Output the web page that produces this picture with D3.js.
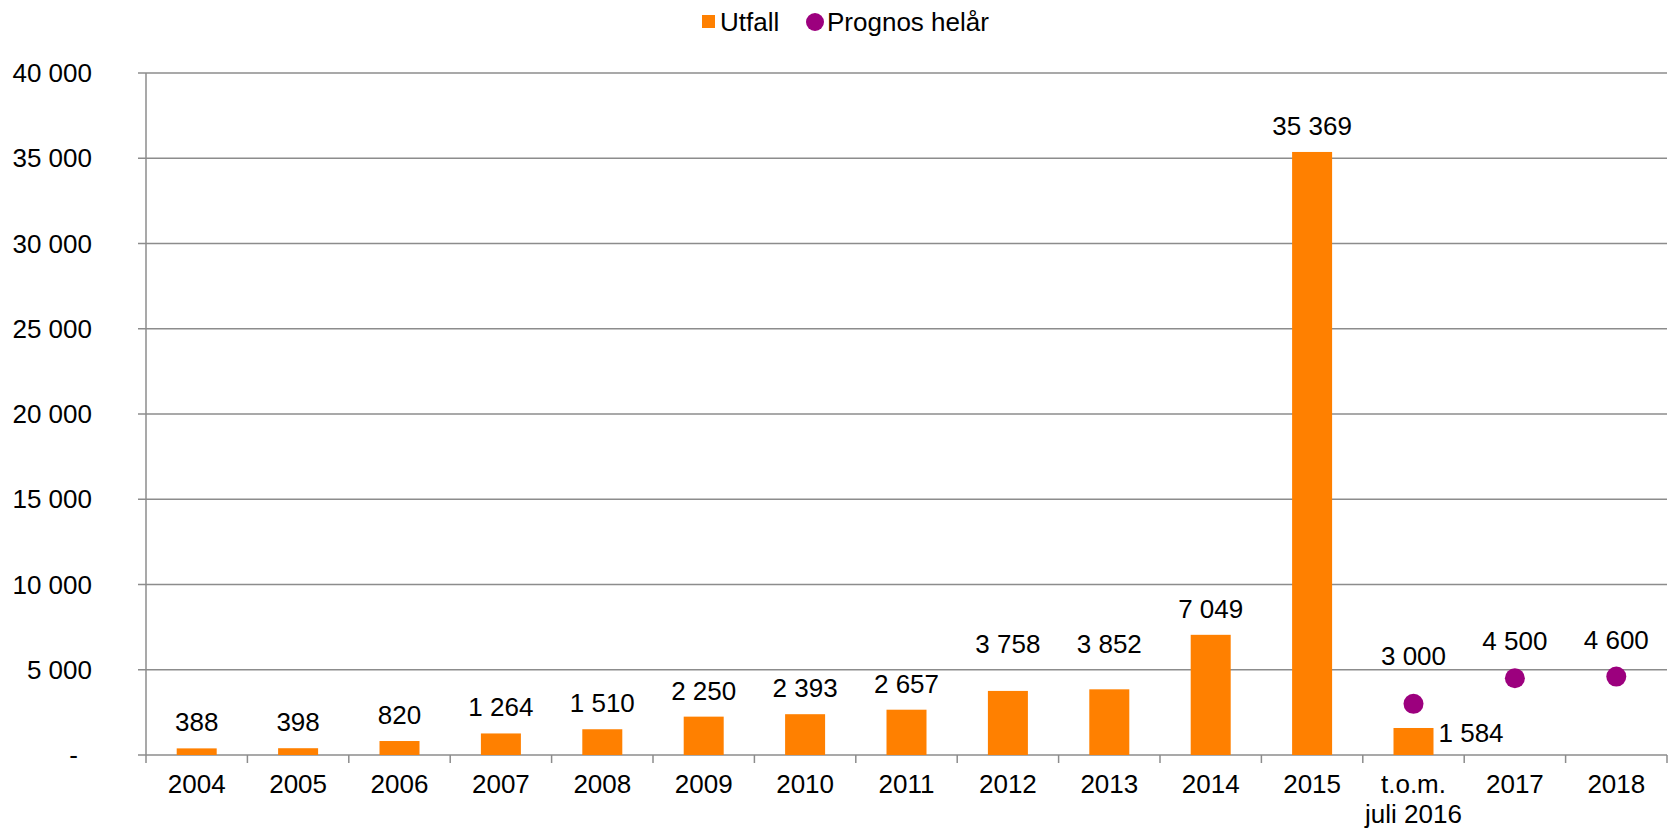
<!DOCTYPE html>
<html lang="sv">
<head>
<meta charset="utf-8">
<title>Utfall och prognos</title>
<script src="https://d3js.org/d3.v7.min.js"></script>
<style>
  body { margin: 0; background: #fff; }
  svg text { font-family: "Liberation Sans", Arial, sans-serif; font-size: 26px; fill: #000; }
</style>
</head>
<body>
<svg id="chart" width="1672" height="829"></svg>
<script>
// ---- data ----
var categories = ["2004","2005","2006","2007","2008","2009","2010","2011","2012","2013","2014","2015","t.o.m.\njuli 2016","2017","2018"];
var utfall  = [388, 398, 820, 1264, 1510, 2250, 2393, 2657, 3758, 3852, 7049, 35369, 1584, null, null];
var prognos = [null, null, null, null, null, null, null, null, null, null, null, null, 3000, 4500, 4600];
var yTicks = [0, 5000, 10000, 15000, 20000, 25000, 30000, 35000, 40000];

var orange = "#ff8000", purple = "#9c007e", grid = "#8c8c8c";

var svg = d3.select("#chart");
var plotLeft = 146, plotRight = 1667, plotTop = 73, plotBottom = 755;

var x = d3.scaleBand().domain(d3.range(categories.length)).range([plotLeft, plotRight]);
var y = d3.scaleLinear().domain([0, 40000]).range([plotBottom, plotTop]);

var fmt = function(v) { return v === 0 ? "-" : d3.format(",")(v).replace(/,/g, " "); };
var cx = function(i) { return x(i) + x.bandwidth() / 2; };

// labels that the original lifts clear of the 5 000 gridline
var barLift = {8: 21, 9: 19};
var dotLift = {12: 11};

// gridlines + y ticks
svg.append("g").selectAll("line").data(yTicks).enter().append("line")
  .attr("x1", plotLeft - 8).attr("x2", plotRight)
  .attr("y1", function(d) { return y(d); }).attr("y2", function(d) { return y(d); })
  .attr("stroke", grid).attr("stroke-width", 1.5);

svg.append("g").selectAll("text").data(yTicks).enter().append("text")
  .attr("x", function(d) { return d === 0 ? 78 : 92; })
  .attr("y", function(d) { return y(d) + 9; })
  .attr("text-anchor", "end")
  .text(fmt);

// y axis line
svg.append("line").attr("x1", plotLeft).attr("x2", plotLeft).attr("y1", plotTop).attr("y2", plotBottom + 8)
  .attr("stroke", grid).attr("stroke-width", 1.5);

// x category ticks
svg.append("g").selectAll("line").data(d3.range(1, categories.length + 1)).enter().append("line")
  .attr("x1", function(i) { return plotLeft + i * x.step(); })
  .attr("x2", function(i) { return plotLeft + i * x.step(); })
  .attr("y1", plotBottom).attr("y2", plotBottom + 8)
  .attr("stroke", grid).attr("stroke-width", 1.5);

// category labels
var catG = svg.append("g").selectAll("text").data(categories).enter().append("text")
  .attr("text-anchor", "middle")
  .attr("x", function(d, i) { return cx(i); })
  .attr("y", 793);
catG.selectAll("tspan").data(function(d) { return d.split("\n"); }).enter().append("tspan")
  .attr("x", function() { return d3.select(this.parentNode).attr("x"); })
  .attr("dy", function(d, j) { return j === 0 ? 0 : 30; })
  .text(function(d) { return d; });

// bars
var barW = 40;
var barData = utfall.map(function(v, i) { return {i: i, v: v}; }).filter(function(d) { return d.v != null; });
svg.append("g").selectAll("rect").data(barData).enter().append("rect")
  .attr("x", function(d) { return cx(d.i) - barW / 2; })
  .attr("width", barW)
  .attr("y", function(d) { return y(d.v); })
  .attr("height", function(d) { return plotBottom - y(d.v); })
  .attr("fill", orange);

// bar labels (last one placed to the right of the bar, as in the original)
svg.append("g").selectAll("text").data(barData).enter().append("text")
  .attr("text-anchor", function(d) { return d.i === 12 ? "start" : "middle"; })
  .attr("x", function(d) { return d.i === 12 ? cx(d.i) + barW / 2 + 5 : cx(d.i); })
  .attr("y", function(d) { return d.i === 12 ? plotBottom - 13 : y(d.v) - 17 - (barLift[d.i] || 0); })
  .text(function(d) { return fmt(d.v); });

// prognos dots
var dotData = prognos.map(function(v, i) { return {i: i, v: v}; }).filter(function(d) { return d.v != null; });
svg.append("g").selectAll("circle").data(dotData).enter().append("circle")
  .attr("cx", function(d) { return cx(d.i); })
  .attr("cy", function(d) { return y(d.v); })
  .attr("r", 10)
  .attr("fill", purple);

svg.append("g").selectAll("text").data(dotData).enter().append("text")
  .attr("text-anchor", "middle")
  .attr("x", function(d) { return cx(d.i); })
  .attr("y", function(d) { return y(d.v) - 28 - (dotLift[d.i] || 0); })
  .text(function(d) { return fmt(d.v); });

// legend
var leg = svg.append("g");
leg.append("rect").attr("x", 702).attr("y", 15).attr("width", 13).attr("height", 13).attr("fill", orange);
leg.append("text").attr("x", 720).attr("y", 31).text("Utfall");
leg.append("circle").attr("cx", 815).attr("cy", 22).attr("r", 9).attr("fill", purple);
leg.append("text").attr("x", 827).attr("y", 31).text("Prognos helår");
</script>
</body>
</html>
